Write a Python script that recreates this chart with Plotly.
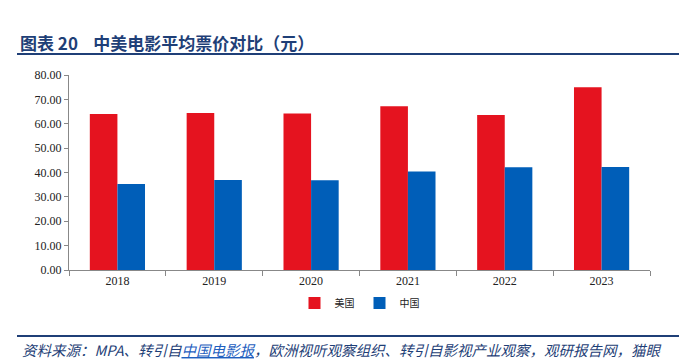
import plotly.graph_objects as go

years = ["2018", "2019", "2020", "2021", "2022", "2023"]
usa = [64.0, 64.4, 64.2, 67.2, 63.6, 75.0]
china = [35.3, 36.9, 36.8, 40.4, 42.2, 42.3]
yticks = [0, 10, 20, 30, 40, 50, 60, 70, 80]

fig = go.Figure()
fig.add_trace(go.Bar(name="美国", x=years, y=usa, marker=dict(color="#E5131F", line=dict(width=0))))
fig.add_trace(go.Bar(name="中国", x=years, y=china, marker=dict(color="#005EB8", line=dict(width=0))))

serif = "Liberation Serif, Times New Roman, serif"
# plot area: x 69..650, y 75..270 (pixels)
L, R, T, B = 69, 650, 75, 270
W, H = R - L, B - T
def px(X):
    return (X - L) / W
def py(Y):
    return (B - Y) / H

fig.update_layout(
    width=679, height=360,
    margin=dict(l=L, r=679 - R, t=T, b=360 - B, autoexpand=False),
    plot_bgcolor="white", paper_bgcolor="white",
    barmode="group", bargap=0.43, bargroupgap=0,
    showlegend=True,
    legend=dict(orientation="h", x=0.5, xanchor="center", y=py(303), yanchor="middle",
                font=dict(family="Noto Sans CJK SC", size=10, color="#222"),
                itemwidth=30, traceorder="normal", tracegroupgap=0),
    xaxis=dict(showline=True, linecolor="#888", linewidth=1, ticks="outside",
               tickson="boundaries",
               tickcolor="#888", ticklen=5, tickfont=dict(family=serif, size=12, color="#222"),
               showgrid=False),
    yaxis=dict(range=[0, 80], tickvals=yticks, tickformat=".2f", showline=True,
               linecolor="#888", linewidth=1, ticks="outside", tickcolor="#888",
               ticklen=4, tickfont=dict(family=serif, size=12, color="#222"),
               showgrid=False, zeroline=False),
)

fig.add_annotation(text="<b>图表&nbsp;20&nbsp;&nbsp;&nbsp;&nbsp;中美电影平均票价对比（元）</b>", xref="paper", yref="paper",
                   x=px(18), xanchor="left", y=py(43), yanchor="middle",
                   showarrow=False, font=dict(family="Noto Sans CJK SC", size=17, color="#1F3F77"))
fig.add_shape(type="line", xref="paper", yref="paper", x0=px(17), x1=px(679), y0=py(54), y1=py(54),
              line=dict(color="#1F3F77", width=2))

fig.add_shape(type="line", xref="paper", yref="paper", x0=px(17), x1=px(679), y0=py(336), y1=py(336),
              line=dict(color="#1F3F77", width=2))
fig.add_annotation(
    text="<i>资料来源：MPA、转引自<span style='color:#1F5FBF'><u>中国电影报</u></span>，欧洲视听观察组织、转引自影视产业观察，观研报告网，猫眼</i>",
    xref="paper", yref="paper", x=px(20), xanchor="left", y=py(349), yanchor="middle",
    showarrow=False, font=dict(family="Noto Sans CJK SC", size=14.5, color="#1F3F77"))

fig.write_html("out.html", config={"displayModeBar": False},
               post_script="document.body.style.margin='0';document.body.style.overflow='hidden';")
